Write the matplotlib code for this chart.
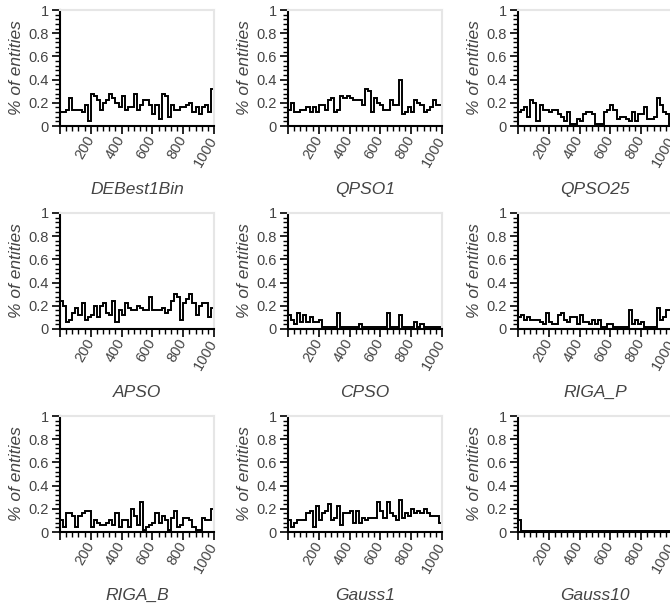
import numpy as np
import matplotlib
matplotlib.use('Agg')
import matplotlib.pyplot as plt
from matplotlib.ticker import MultipleLocator, FuncFormatter

# Nombres de los algoritmos (un panel por cada uno)
names = ['DEBest1Bin', 'QPSO1', 'QPSO25',
         'APSO', 'CPSO', 'RIGA_P',
         'RIGA_B', 'Gauss1', 'Gauss10']

# Bordes de los 50 intervalos (ancho 20) en el eje x
edges = np.arange(0, 1001, 20)

debest1bin = [0.12, 0.12, 0.14, 0.24, 0.14, 0.14, 0.14, 0.12, 0.18, 0.04,
              0.28, 0.26, 0.22, 0.14, 0.20, 0.22, 0.28, 0.24, 0.20, 0.16,
              0.26, 0.14, 0.16, 0.16, 0.28, 0.14, 0.18, 0.22, 0.22, 0.18,
              0.10, 0.18, 0.06, 0.28, 0.26, 0.08, 0.18, 0.14, 0.14, 0.16,
              0.16, 0.18, 0.20, 0.12, 0.16, 0.10, 0.16, 0.18, 0.12, 0.32]
qpso1 = [0.14, 0.20, 0.12, 0.12, 0.14, 0.14, 0.16, 0.12, 0.16, 0.12,
         0.18, 0.18, 0.14, 0.22, 0.24, 0.12, 0.14, 0.26, 0.24, 0.26,
         0.24, 0.22, 0.22, 0.22, 0.18, 0.32, 0.30, 0.12, 0.24, 0.20,
         0.18, 0.14, 0.14, 0.22, 0.18, 0.18, 0.40, 0.10, 0.12, 0.16,
         0.12, 0.22, 0.20, 0.18, 0.12, 0.14, 0.16, 0.22, 0.18, 0.18]
qpso25 = [0.12, 0.14, 0.16, 0.08, 0.22, 0.20, 0.04, 0.18, 0.14, 0.14,
          0.12, 0.14, 0.14, 0.10, 0.08, 0.04, 0.12, 0.02, 0.02, 0.06,
          0.04, 0.10, 0.12, 0.12, 0.10, 0.02, 0.02, 0.02, 0.12, 0.14,
          0.18, 0.14, 0.06, 0.08, 0.08, 0.06, 0.04, 0.12, 0.04, 0.10,
          0.10, 0.16, 0.06, 0.06, 0.08, 0.24, 0.18, 0.12, 0.10, 0.02]
apso = [0.24, 0.20, 0.06, 0.08, 0.14, 0.18, 0.12, 0.22, 0.08, 0.10,
        0.12, 0.20, 0.10, 0.20, 0.22, 0.14, 0.12, 0.24, 0.06, 0.16,
        0.12, 0.22, 0.18, 0.16, 0.16, 0.20, 0.18, 0.16, 0.16, 0.28,
        0.16, 0.16, 0.16, 0.18, 0.14, 0.16, 0.24, 0.30, 0.28, 0.08,
        0.22, 0.26, 0.30, 0.22, 0.12, 0.20, 0.22, 0.22, 0.10, 0.18]
cpso = [0.12, 0.08, 0.04, 0.14, 0.06, 0.12, 0.06, 0.10, 0.06, 0.06,
        0.08, 0.02, 0.02, 0.02, 0.02, 0.02, 0.14, 0.02, 0.02, 0.02,
        0.02, 0.02, 0.02, 0.04, 0.02, 0.02, 0.02, 0.02, 0.02, 0.02,
        0.02, 0.02, 0.14, 0.02, 0.02, 0.02, 0.12, 0.02, 0.02, 0.02,
        0.02, 0.06, 0.02, 0.04, 0.02, 0.02, 0.02, 0.02, 0.02, 0.02]
riga_p = [0.10, 0.12, 0.08, 0.10, 0.08, 0.08, 0.08, 0.06, 0.04, 0.14,
          0.06, 0.04, 0.04, 0.12, 0.14, 0.08, 0.06, 0.10, 0.10, 0.04,
          0.12, 0.06, 0.06, 0.04, 0.08, 0.04, 0.08, 0.02, 0.02, 0.04,
          0.04, 0.02, 0.02, 0.02, 0.02, 0.02, 0.16, 0.04, 0.08, 0.04,
          0.06, 0.02, 0.02, 0.02, 0.02, 0.18, 0.08, 0.10, 0.16, 0.16]
riga_b = [0.10, 0.04, 0.16, 0.16, 0.14, 0.04, 0.14, 0.16, 0.18, 0.18,
          0.04, 0.10, 0.08, 0.06, 0.06, 0.08, 0.10, 0.06, 0.16, 0.04,
          0.10, 0.10, 0.04, 0.20, 0.14, 0.06, 0.26, 0.02, 0.04, 0.06,
          0.08, 0.16, 0.08, 0.14, 0.10, 0.02, 0.12, 0.18, 0.04, 0.06,
          0.12, 0.12, 0.10, 0.04, 0.02, 0.02, 0.12, 0.10, 0.10, 0.20]
gauss1 = [0.10, 0.04, 0.08, 0.10, 0.10, 0.10, 0.16, 0.18, 0.04, 0.22,
          0.10, 0.16, 0.18, 0.24, 0.10, 0.12, 0.22, 0.06, 0.16, 0.16,
          0.18, 0.08, 0.18, 0.08, 0.12, 0.10, 0.12, 0.12, 0.12, 0.26,
          0.18, 0.12, 0.26, 0.16, 0.14, 0.10, 0.28, 0.12, 0.16, 0.14,
          0.20, 0.16, 0.18, 0.16, 0.20, 0.16, 0.14, 0.14, 0.14, 0.08]
gauss10 = [0.10] + [0.01] * 49

series = [debest1bin, qpso1, qpso25, apso, cpso, riga_p, riga_b, gauss1, gauss10]

plt.rcParams['font.family'] = ['Liberation Sans', 'DejaVu Sans']
text_color = '#444444'

W, H = 670, 608
fig = plt.figure(figsize=(W / 100, H / 100), dpi=100)

# Posiciones de los paneles en pixeles (izquierda, arriba)
col_left = [60, 288, 518]
row_top = [10, 213, 416]
ax_w, ax_h = 154, 116

for i, (name, vals) in enumerate(zip(names, series)):
    r, c = divmod(i, 3)
    left = col_left[c] / W
    bottom = 1 - (row_top[r] + ax_h) / H
    ax = fig.add_axes([left, bottom, ax_w / W, ax_h / H])

    ax.stairs(vals, edges, color='black', linewidth=1.4, baseline=None)

    ax.set_xlim(0, 1000)
    ax.set_ylim(0, 1)
    ax.xaxis.set_major_locator(MultipleLocator(200))
    ax.xaxis.set_minor_locator(MultipleLocator(40))
    ax.yaxis.set_major_locator(MultipleLocator(0.2))
    ax.yaxis.set_minor_locator(MultipleLocator(0.04))
    ax.yaxis.set_major_formatter(FuncFormatter(lambda v, p: f'{v:g}'))
    ax.xaxis.set_major_formatter(FuncFormatter(lambda v, p: '' if v == 0 else f'{v:g}'))

    for s in ['left', 'bottom']:
        ax.spines[s].set_color('black')
        ax.spines[s].set_linewidth(1.5)
    for s in ['top', 'right']:
        ax.spines[s].set_color('#e6e6e6')
        ax.spines[s].set_linewidth(1.5)

    ax.tick_params(which='major', length=6, width=1.2, color='black',
                   labelsize=10.5, labelcolor=text_color, pad=2)
    ax.tick_params(which='minor', length=3.5, width=1.0, color='black')
    for lab in ax.get_xticklabels():
        lab.set_rotation(60)
        lab.set_ha('right')
        lab.set_va('center')
        lab.set_rotation_mode('anchor')

    ax.set_ylabel('% of entities', fontsize=12.5, style='italic',
                  color=text_color, labelpad=3)
    ax.set_xlabel(name, fontsize=12.5, style='italic', color=text_color,
                  labelpad=9)

plt.savefig('out.png', dpi=100)
